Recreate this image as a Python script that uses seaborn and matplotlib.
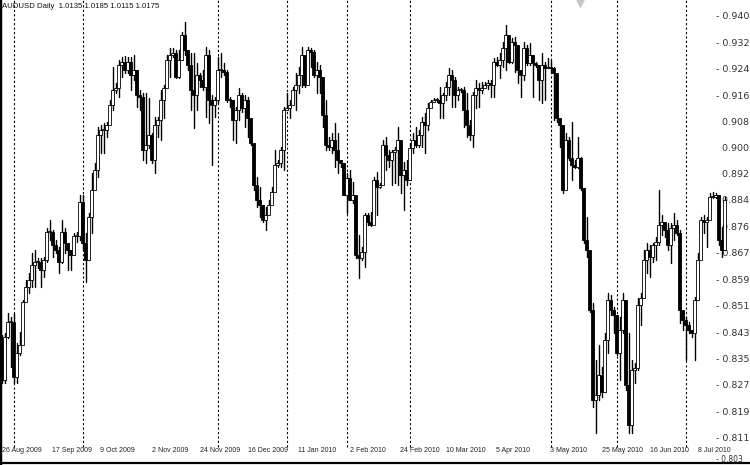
import numpy as np
import pandas as pd
import matplotlib
matplotlib.use("Agg")
import matplotlib.pyplot as plt
import seaborn as sns

sns.set_style("white")
plt.rcParams["font.family"] = ["Liberation Sans", "DejaVu Sans"]

title_text = "AUDUSD Daily  1.0135 1.0185 1.0115 1.0175"

# daily OHLC, one entry per bar (left to right)
opens = [
    0.8412, 0.8289, 0.8421, 0.8467, 0.8467, 0.8298, 0.8372, 0.8396, 0.8528, 0.8574,
    0.8595, 0.8641, 0.8650, 0.8650, 0.8626, 0.8656, 0.8742, 0.8742, 0.8702, 0.8687,
    0.8650, 0.8742, 0.8708, 0.8687, 0.8672, 0.8730, 0.8730, 0.8834, 0.8708, 0.8656,
    0.8788, 0.8871, 0.8932, 0.9039, 0.9054, 0.9054, 0.9069, 0.9131, 0.9177, 0.9183,
    0.9253, 0.9262, 0.9238, 0.9262, 0.9222, 0.9238, 0.9161, 0.9155, 0.8993, 0.9008,
    0.9039, 0.8962, 0.9069, 0.9085, 0.9146, 0.9183, 0.9268, 0.9284, 0.9290, 0.9216,
    0.9268, 0.9345, 0.9299, 0.9253, 0.9177, 0.9161, 0.9222, 0.9207, 0.9186, 0.9284,
    0.9146, 0.9131, 0.9146, 0.9238, 0.9238, 0.9232, 0.9146, 0.9146, 0.9085, 0.9115,
    0.9161, 0.9122, 0.9146, 0.9091, 0.9014, 0.8886, 0.8840, 0.8825, 0.8779, 0.8794,
    0.8825, 0.8864, 0.8947, 0.8953, 0.8993, 0.9115, 0.9122, 0.9131, 0.9177, 0.9192,
    0.9222, 0.9284, 0.9192, 0.9299, 0.9293, 0.9222, 0.9238, 0.9216, 0.9100, 0.9008,
    0.9002, 0.9024, 0.8993, 0.8962, 0.8953, 0.8855, 0.8907, 0.8840, 0.8855, 0.8672,
    0.8663, 0.8681, 0.8794, 0.8773, 0.8763, 0.8901, 0.8880, 0.8886, 0.9008, 0.8978,
    0.8962, 0.8987, 0.8993, 0.9024, 0.8916, 0.8932, 0.8901, 0.8999, 0.9024, 0.9008,
    0.9039, 0.9079, 0.9069, 0.9122, 0.9140, 0.9146, 0.9146, 0.9137, 0.9161, 0.9186,
    0.9222, 0.9207, 0.9161, 0.9177, 0.9177, 0.9115, 0.9069, 0.9039, 0.9161, 0.9183,
    0.9177, 0.9183, 0.9192, 0.9198, 0.9192, 0.9262, 0.9253, 0.9268, 0.9305, 0.9345,
    0.9262, 0.9323, 0.9314, 0.9238, 0.9222, 0.9305, 0.9259, 0.9284, 0.9259, 0.9253,
    0.9207, 0.9253, 0.9244, 0.9247, 0.9244, 0.9229, 0.9091, 0.9069, 0.8871, 0.9024,
    0.8969, 0.8947, 0.8941, 0.8969, 0.8877, 0.8718, 0.8687, 0.8503, 0.8228, 0.8243,
    0.8304, 0.8252, 0.8412, 0.8534, 0.8503, 0.8488, 0.8372, 0.8442, 0.8534, 0.8274,
    0.8151, 0.8320, 0.8326, 0.8519, 0.8540, 0.8656, 0.8687, 0.8666, 0.8702, 0.8711,
    0.8763, 0.8773, 0.8748, 0.8702, 0.8754, 0.8763, 0.8739, 0.8503, 0.8473, 0.8457,
    0.8442, 0.8433, 0.8534, 0.8656, 0.8779, 0.8773, 0.8779, 0.8849, 0.8849, 0.8855,
    0.8718, 0.8687,
]
highs = [
    0.8427, 0.8433, 0.8494, 0.8482, 0.8494, 0.8402, 0.8436, 0.8534, 0.8595, 0.8617,
    0.8678, 0.8687, 0.8663, 0.8663, 0.8666, 0.8754, 0.8779, 0.8748, 0.8718, 0.8696,
    0.8779, 0.8754, 0.8708, 0.8678, 0.8739, 0.8742, 0.8855, 0.8855, 0.8739, 0.8800,
    0.8923, 0.8953, 0.9063, 0.9069, 0.9076, 0.9079, 0.9146, 0.9247, 0.9198, 0.9268,
    0.9278, 0.9281, 0.9278, 0.9278, 0.9284, 0.9238, 0.9177, 0.9167, 0.9167, 0.9152,
    0.9045, 0.9094, 0.9094, 0.9177, 0.9192, 0.9284, 0.9305, 0.9305, 0.9299, 0.9299,
    0.9354, 0.9385, 0.9299, 0.9290, 0.9290, 0.9259, 0.9229, 0.9238, 0.9308, 0.9299,
    0.9161, 0.9155, 0.9278, 0.9290, 0.9259, 0.9238, 0.9155, 0.9146, 0.9125, 0.9183,
    0.9167, 0.9161, 0.9155, 0.9069, 0.9014, 0.8910, 0.8880, 0.8825, 0.8819, 0.8840,
    0.8880, 0.8993, 0.8962, 0.9002, 0.9125, 0.9167, 0.9146, 0.9186, 0.9229, 0.9247,
    0.9308, 0.9247, 0.9308, 0.9305, 0.9299, 0.9262, 0.9253, 0.9183, 0.9146, 0.9033,
    0.9045, 0.9076, 0.9045, 0.8962, 0.8953, 0.8923, 0.8932, 0.8895, 0.8840, 0.8733,
    0.8696, 0.8800, 0.8800, 0.8803, 0.8910, 0.8926, 0.8892, 0.9024, 0.9033, 0.8993,
    0.8993, 0.9002, 0.9063, 0.9002, 0.8956, 0.8962, 0.9014, 0.9045, 0.9063, 0.9054,
    0.9094, 0.9106, 0.9137, 0.9146, 0.9152, 0.9152, 0.9186, 0.9167, 0.9201, 0.9244,
    0.9238, 0.9216, 0.9186, 0.9183, 0.9186, 0.9167, 0.9085, 0.9170, 0.9207, 0.9198,
    0.9201, 0.9201, 0.9207, 0.9207, 0.9275, 0.9278, 0.9290, 0.9323, 0.9375, 0.9299,
    0.9336, 0.9339, 0.9290, 0.9229, 0.9323, 0.9314, 0.9320, 0.9284, 0.9262, 0.9247,
    0.9290, 0.9262, 0.9275, 0.9268, 0.9247, 0.9106, 0.9085, 0.9063, 0.9045, 0.9033,
    0.9079, 0.8962, 0.9033, 0.8972, 0.8877, 0.8788, 0.8663, 0.8525, 0.8350, 0.8396,
    0.8329, 0.8433, 0.8555, 0.8549, 0.8513, 0.8479, 0.8482, 0.8555, 0.8488, 0.8433,
    0.8350, 0.8341, 0.8540, 0.8555, 0.8687, 0.8708, 0.8702, 0.8708, 0.8727, 0.8871,
    0.8794, 0.8757, 0.8770, 0.8770, 0.8800, 0.8779, 0.8748, 0.8494, 0.8482, 0.8467,
    0.8442, 0.8543, 0.8678, 0.8788, 0.8794, 0.8788, 0.8861, 0.8864, 0.8861, 0.8855,
    0.8757, 0.8849,
]
lows = [
    0.8280, 0.8280, 0.8418, 0.8329, 0.8280, 0.8280, 0.8366, 0.8427, 0.8534, 0.8555,
    0.8574, 0.8574, 0.8632, 0.8574, 0.8604, 0.8650, 0.8718, 0.8666, 0.8678, 0.8617,
    0.8647, 0.8678, 0.8626, 0.8626, 0.8672, 0.8711, 0.8718, 0.8687, 0.8589, 0.8656,
    0.8739, 0.8880, 0.8910, 0.8984, 0.8984, 0.9033, 0.9085, 0.9115, 0.9167, 0.9155,
    0.9216, 0.9229, 0.9229, 0.9177, 0.9207, 0.9125, 0.9115, 0.8962, 0.8953, 0.8999,
    0.8953, 0.8923, 0.9033, 0.9024, 0.9091, 0.9201, 0.9216, 0.9278, 0.9213, 0.9213,
    0.9290, 0.9284, 0.9238, 0.9115, 0.9060, 0.9115, 0.9186, 0.9177, 0.9094, 0.9076,
    0.8947, 0.9094, 0.9137, 0.9216, 0.9222, 0.9140, 0.9125, 0.9024, 0.9014, 0.9085,
    0.9109, 0.9063, 0.9033, 0.9008, 0.8871, 0.8819, 0.8788, 0.8773, 0.8748, 0.8800,
    0.8831, 0.8871, 0.8941, 0.8941, 0.8932, 0.9115, 0.9091, 0.9146, 0.9115, 0.9167,
    0.9186, 0.9186, 0.9207, 0.9247, 0.9216, 0.9167, 0.9167, 0.9063, 0.8993, 0.8993,
    0.8984, 0.8941, 0.8923, 0.8941, 0.8855, 0.8800, 0.8840, 0.8831, 0.8663, 0.8601,
    0.8656, 0.8635, 0.8763, 0.8760, 0.8819, 0.8794, 0.8877, 0.8901, 0.8932, 0.8941,
    0.8886, 0.8892, 0.8886, 0.8861, 0.8809, 0.8886, 0.8901, 0.8984, 0.9002, 0.9002,
    0.9002, 0.8984, 0.9054, 0.9134, 0.9140, 0.9140, 0.9091, 0.9091, 0.9146, 0.9161,
    0.9125, 0.9125, 0.9146, 0.9170, 0.9063, 0.9033, 0.9024, 0.9002, 0.9122, 0.9125,
    0.9167, 0.9183, 0.9180, 0.9155, 0.9155, 0.9250, 0.9213, 0.9247, 0.9238, 0.9259,
    0.9259, 0.9232, 0.9198, 0.9155, 0.9207, 0.9253, 0.9253, 0.9155, 0.9247, 0.9146,
    0.9137, 0.9146, 0.9244, 0.9232, 0.9085, 0.9079, 0.9002, 0.8861, 0.8871, 0.8962,
    0.8901, 0.8938, 0.8938, 0.8871, 0.8708, 0.8666, 0.8497, 0.8207, 0.8127, 0.8228,
    0.8237, 0.8252, 0.8372, 0.8488, 0.8433, 0.8366, 0.8289, 0.8433, 0.8259, 0.8127,
    0.8127, 0.8280, 0.8320, 0.8457, 0.8555, 0.8617, 0.8604, 0.8650, 0.8656, 0.8702,
    0.8733, 0.8727, 0.8687, 0.8647, 0.8718, 0.8733, 0.8464, 0.8442, 0.8350, 0.8433,
    0.8421, 0.8350, 0.8534, 0.8666, 0.8739, 0.8696, 0.8788, 0.8846, 0.8846, 0.8702,
    0.8666, 0.8687,
]
closes = [
    0.8289, 0.8421, 0.8467, 0.8467, 0.8298, 0.8372, 0.8396, 0.8528, 0.8574, 0.8595,
    0.8641, 0.8650, 0.8650, 0.8626, 0.8656, 0.8742, 0.8742, 0.8702, 0.8687, 0.8650,
    0.8742, 0.8708, 0.8687, 0.8672, 0.8730, 0.8730, 0.8834, 0.8708, 0.8656, 0.8788,
    0.8871, 0.8932, 0.9039, 0.9054, 0.9054, 0.9069, 0.9131, 0.9177, 0.9183, 0.9253,
    0.9262, 0.9238, 0.9262, 0.9222, 0.9238, 0.9161, 0.9155, 0.8993, 0.9008, 0.9039,
    0.8962, 0.9069, 0.9085, 0.9146, 0.9183, 0.9268, 0.9284, 0.9290, 0.9216, 0.9268,
    0.9345, 0.9299, 0.9253, 0.9177, 0.9161, 0.9222, 0.9207, 0.9186, 0.9284, 0.9146,
    0.9131, 0.9146, 0.9238, 0.9238, 0.9232, 0.9146, 0.9146, 0.9085, 0.9115, 0.9161,
    0.9122, 0.9146, 0.9091, 0.9014, 0.8886, 0.8840, 0.8825, 0.8779, 0.8794, 0.8825,
    0.8864, 0.8947, 0.8953, 0.8993, 0.9115, 0.9122, 0.9131, 0.9177, 0.9192, 0.9222,
    0.9284, 0.9192, 0.9299, 0.9293, 0.9222, 0.9238, 0.9216, 0.9100, 0.9008, 0.9002,
    0.9024, 0.8993, 0.8962, 0.8953, 0.8855, 0.8907, 0.8840, 0.8855, 0.8672, 0.8663,
    0.8681, 0.8794, 0.8773, 0.8763, 0.8901, 0.8880, 0.8886, 0.9008, 0.8978, 0.8962,
    0.8987, 0.8993, 0.9024, 0.8916, 0.8932, 0.8901, 0.8999, 0.9024, 0.9008, 0.9039,
    0.9079, 0.9069, 0.9122, 0.9140, 0.9146, 0.9146, 0.9137, 0.9161, 0.9186, 0.9222,
    0.9207, 0.9161, 0.9177, 0.9177, 0.9115, 0.9069, 0.9039, 0.9161, 0.9183, 0.9177,
    0.9183, 0.9192, 0.9198, 0.9192, 0.9262, 0.9253, 0.9268, 0.9305, 0.9345, 0.9262,
    0.9323, 0.9314, 0.9238, 0.9222, 0.9305, 0.9259, 0.9284, 0.9259, 0.9253, 0.9207,
    0.9253, 0.9244, 0.9247, 0.9244, 0.9229, 0.9091, 0.9069, 0.8871, 0.9024, 0.8969,
    0.8947, 0.8941, 0.8969, 0.8877, 0.8718, 0.8687, 0.8503, 0.8228, 0.8243, 0.8304,
    0.8252, 0.8412, 0.8534, 0.8503, 0.8488, 0.8372, 0.8442, 0.8534, 0.8274, 0.8151,
    0.8320, 0.8326, 0.8519, 0.8540, 0.8656, 0.8687, 0.8666, 0.8702, 0.8711, 0.8763,
    0.8773, 0.8748, 0.8702, 0.8754, 0.8763, 0.8739, 0.8503, 0.8473, 0.8457, 0.8442,
    0.8433, 0.8534, 0.8656, 0.8779, 0.8773, 0.8779, 0.8849, 0.8849, 0.8855, 0.8718,
    0.8687, 0.8840,
]

date_ticks = [0, 17, 33, 50, 66, 82, 99, 116, 133, 148, 165, 183, 200, 216, 232]
date_labels = ["26 Aug 2009", "17 Sep 2009", "9 Oct 2009", "2 Nov 2009", "24 Nov 2009",
               "16 Dec 2009", "11 Jan 2010", "2 Feb 2010", "24 Feb 2010", "10 Mar 2010",
               "5 Apr 2010", "3 May 2010", "25 May 2010", "16 Jun 2010", "8 Jul 2010"]
month_seps = [4, 27, 72, 95, 115, 136, 183, 205, 228]

price_ticks = [0.9404, 0.9323, 0.9242, 0.9161, 0.9080, 0.9000, 0.8920, 0.8840, 0.8760,
               0.8679, 0.8598, 0.8517, 0.8436, 0.8355, 0.8274, 0.8193, 0.8112, 0.8031]
price_labels = ["- 0.940", "- 0.932", "- 0.924", "- 0.916", "  0.908", "  0.900",
                "  0.892", "  0.884", "  0.876", "- 0.867", "- 0.859", "- 0.851",
                "- 0.843", "- 0.835", "- 0.827", "- 0.819", "- 0.811", "- 0.803"]

o = np.array(opens)
h = np.array(highs)
l = np.array(lows)
c = np.array(closes)
bars = np.arange(len(c))

fig = plt.figure(figsize=(7.5, 4.65), dpi=100)
ax = fig.add_axes([0, 0, 1, 1])
ax.set_facecolor("white")

# monthly period separators
for s in month_seps:
    ax.axvline(s, ymin=18 / 465, ymax=1, color="black", lw=0.8, ls=(0, (2, 2)), zorder=1)

# wicks
wicks = pd.DataFrame({"bar": np.concatenate([bars, bars]),
                      "price": np.concatenate([l, h])})
sns.lineplot(data=wicks, x="bar", y="price", units="bar", estimator=None,
             color="black", lw=1.0, ax=ax, legend=False, sort=False, zorder=2)

# bodies
body_lo = np.minimum(o, c)
body_h = np.maximum(np.abs(c - o), 0.00025)
body_col = np.where(c >= o, "white", "black")
ax.bar(bars, body_h, bottom=body_lo, width=0.72, color=body_col,
       edgecolor="black", linewidth=0.6, zorder=3)

ax.set_xlim(-0.5, 249.5)
ax.set_ylim(0.8029, 0.9452)
ax.set_xlabel("")
ax.set_ylabel("")

for side in ["top", "right"]:
    ax.spines[side].set_visible(False)
ax.spines["left"].set_linewidth(2.5)
ax.spines["left"].set_color("black")
ax.spines["bottom"].set_position(("axes", 2 / 465))
ax.spines["bottom"].set_linewidth(1.6)
ax.spines["bottom"].set_color("black")

ax.set_xticks(date_ticks, date_labels, ha="left")
ax.tick_params(axis="x", length=0, pad=-11.2, labelsize=5, labelcolor="#222222")

ax.yaxis.tick_right()
ax.set_yticks(price_ticks, price_labels, fontfamily="DejaVu Sans")
ax.tick_params(axis="y", length=0, pad=-24.5, labelsize=6.8, labelcolor="#333333")
# lowest label sits on the bottom edge; keep it inside the picture
last = ax.get_yticklabels()[-1]
last.set_va("bottom")
last.set_fontsize(5.5)

ax.text(2 / 750, 1 - 6 / 465, title_text, transform=ax.transAxes,
        fontsize=5.6, color="#111111", ha="left", va="center")

# small chart-shift marker at the top
ax.scatter([580 / 750], [1 - 3 / 465], marker="v", s=28, color="#c8c8c8",
           transform=ax.transAxes, clip_on=False, zorder=4)

fig.savefig("out.png", dpi=100, facecolor="white")
